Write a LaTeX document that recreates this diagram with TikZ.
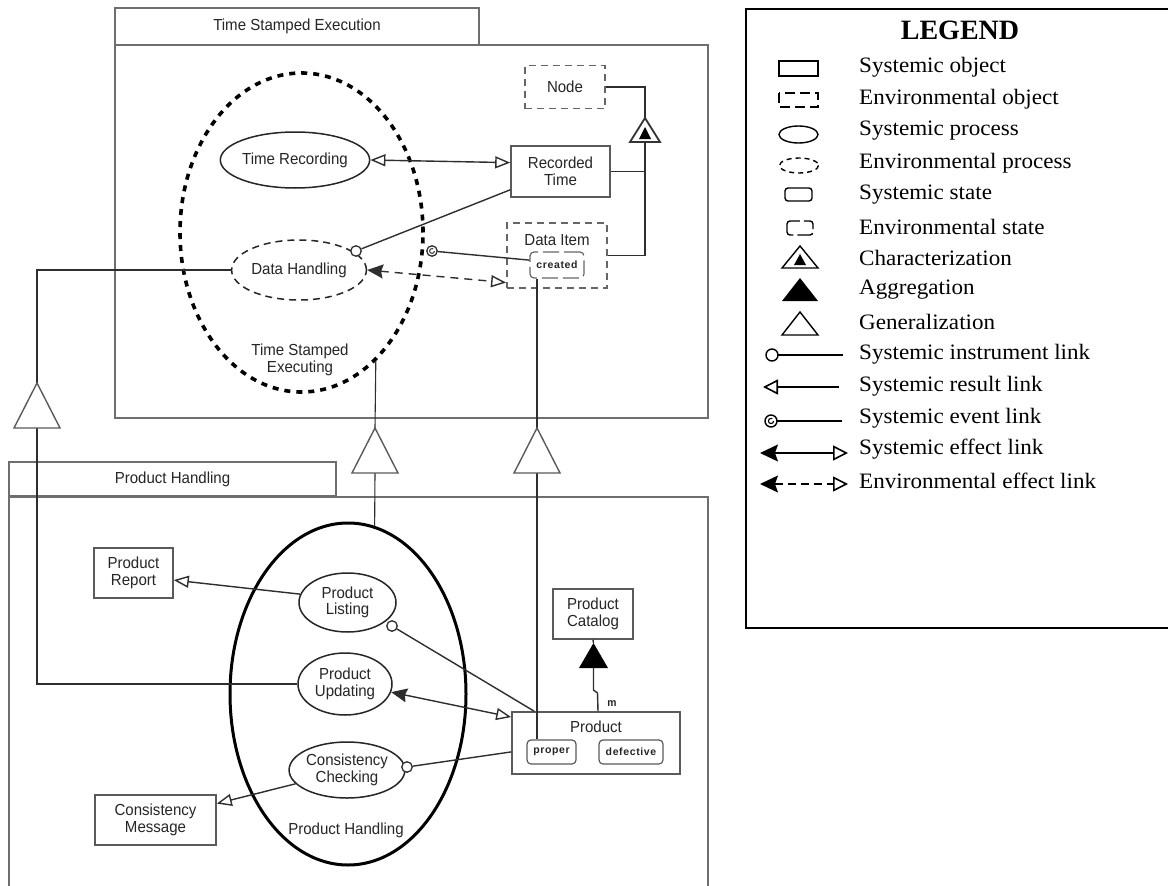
\documentclass[tikz,border=0pt]{standalone}
\usepackage{fontspec}
\setmainfont{Liberation Serif}
\newfontfamily\dfont[FakeStretch=0.94]{Liberation Sans}
\newfontfamily\stfont[LetterSpace=6]{Liberation Sans}
\newfontfamily\lgfont[FakeStretch=1.05]{Liberation Serif}
\usetikzlibrary{shapes.geometric,arrows.meta,calc}
\definecolor{framec}{HTML}{6E6E6E}
\definecolor{linec}{HTML}{2E2E2E}
\definecolor{boxc}{HTML}{5A5A5A}
\definecolor{txtc}{HTML}{262626}
\definecolor{dashc}{HTML}{666666}
\newcommand{\dgsize}{\fontsize{16}{16.5}\selectfont}
\begin{document}
\begin{tikzpicture}[x=1pt,y=-1pt,
  frame/.style={draw=framec, line width=1.6pt, inner sep=0pt, font=\dfont\dgsize, text=txtc},
  obj/.style={rectangle, draw=boxc, line width=1.6pt, inner sep=0pt, font=\dfont\dgsize, text=txtc, align=center},
  envobj/.style={obj, draw=dashc, line width=1.8pt, dash pattern=on 7pt off 5pt},
  proc/.style={ellipse, draw=black!85, line width=1.5pt, inner sep=0pt, font=\dfont\dgsize, text=txtc, align=center},
  envproc/.style={proc, dash pattern=on 7pt off 5pt},
  stbox/.style={rectangle, draw=boxc, line width=1.2pt, rounded corners=4pt, inner sep=0pt, font=\stfont\bfseries\fontsize{10.5}{11}\selectfont, text=txtc},
  envstbox/.style={stbox, draw=dashc, dash pattern=on 16pt off 5pt},
  lbl/.style={font=\dfont\dgsize, text=txtc, align=center, inner sep=0pt},
  link/.style={draw=linec, line width=1.4pt},
  gen/.style={draw=boxc, line width=1.4pt, fill=white, line join=miter},
  inst/.style={circle, draw=linec, line width=1.3pt, fill=white, minimum size=10.5pt, inner sep=0pt},
  opentip/.tip={Triangle[open, length=15pt, width=12pt, line width=1.4pt]},
  filltip/.tip={Stealth[length=16pt, width=14pt, inset=2pt]},
  lopen/.tip={Triangle[open, length=15pt, width=15pt, line width=1.6pt]},
  lfill/.tip={Stealth[length=18pt, width=17pt, inset=3pt]},
  lsym/.style={draw=black, line width=1.4pt},
  legtext/.style={font=\lgfont\fontsize{22}{24}\selectfont, anchor=west, inner sep=0pt},
]
\useasboundingbox (0,0) rectangle (1168,886);
\clip (0,0) rectangle (1168,886);
\fill[white] (0,0) rectangle (1168,886);

% ---------- frames ----------
\node[frame, minimum width=364pt, minimum height=37pt] (tabA) at (297,26.5) {Time Stamped Execution};
\node[frame, minimum width=593pt, minimum height=373pt] (boxA) at (411.5,231.5) {};
\node[frame, minimum width=327pt, minimum height=34pt] (tabB) at (172.5,479) {Product Handling};
\node[frame, minimum width=699pt, minimum height=440pt, anchor=north west] (boxB) at (8,496) {};

% ---------- top part ----------
\node[ellipse, draw=black, line width=3.6pt, dash pattern=on 6pt off 6pt, minimum width=243pt, minimum height=319pt, inner sep=0pt] (tse) at (301.5,232.5) {};
\node[lbl] (tsetxt) at (300,360) {Time Stamped\\Executing};
\node[proc, minimum width=144pt, minimum height=56pt] (tr) at (295,160) {Time Recording};
\node[envproc, minimum width=128pt, minimum height=60pt] (dh) at (299,270) {Data Handling};

\node[envobj, minimum width=80pt, minimum height=43pt] (nd) at (565,87) {Node};
\node[obj, minimum width=99pt, minimum height=51pt] (rt) at (560.5,171.5) {Recorded\\Time};
\node[envobj, minimum width=100pt, minimum height=65pt] (di) at (557,255.5) {};
\node[lbl] (ditxt) at (557,240) {Data Item};
\node[envstbox, minimum width=54pt, minimum height=26pt] (created) at (557,265) {created};

% characterization
\coordinate (cha) at (645,118);
\coordinate (chb) at (645,142);
\draw[gen, draw=black!80, line width=1.8pt] (cha) -- (630,142) -- (660,142) -- cycle;
\fill[black] (645,127) -- (639,139) -- (651,139) -- cycle;
\draw[link] (nd.east) -| (cha);
\draw[link] (rt.east) -- (rt.east -| chb);
\draw[link] (di.east) -- (di.east -| chb);
\draw[link] (chb) -- (chb |- di.east);

% links in the top part
\draw[link, opentip-opentip] (tr.east) -- (rt.170);
\node[inst] (ic1) at (356,251) {};
\draw[link] (rt.200) -- (ic1);
\node[inst] (ev1) at (432,251) {};
\draw[linec, line width=1pt] ($(ev1.center)+(2.4,0)$) arc[start angle=0, end angle=300, radius=2.4];
\draw[link] (ev1) -- (created.170);
\draw[link, dash pattern=on 8pt off 6pt, filltip-opentip] (dh.east) -- (di.208);

% ---------- bottom part ----------
\node[ellipse, draw=black, line width=3pt, minimum width=236pt, minimum height=342pt, inner sep=0pt] (ph) at (348,694) {};
\node[lbl] (phtxt) at (346,830) {Product Handling};
\node[proc, minimum width=97pt, minimum height=59pt] (pl) at (347.5,602.5) {Product\\Listing};
\node[proc, minimum width=94pt, minimum height=62pt] (pu) at (345,684) {Product\\Updating};
\node[proc, minimum width=110pt, minimum height=56pt] (cc) at (347,770) {Consistency\\Checking};

\node[obj, minimum width=79pt, minimum height=50pt] (prr) at (133.5,573) {Product\\Report};
\node[obj, minimum width=121pt, minimum height=50pt] (cm) at (155.5,820) {Consistency\\Message};
\node[obj, minimum width=80pt, minimum height=50pt] (cat) at (593,614) {Product\\Catalog};
\node[obj, minimum width=168pt, minimum height=62pt] (prod) at (596,743) {};
\node[lbl] (prodtxt) at (596,727) {Product};
\node[stbox, minimum width=49pt, minimum height=24pt] (proper) at (551.5,752) {proper};
\node[stbox, minimum width=64pt, minimum height=24pt] (defective) at (631,752) {defective};

% aggregation
\coordinate (aga) at (593.5,643);
\coordinate (agb) at (593.5,668);
\fill[black] (aga) -- (579,668) -- (608,668) -- cycle;
\draw[link] (cat.south) -- (aga);
\draw[link] (agb) -- ++(0,22) -- ++(4,3) -- ($(prod.north)+(2,0)$);
\node[font=\dfont\bfseries\fontsize{11}{12}\selectfont, text=txtc, inner sep=0pt] (mlbl) at (612,704) {m};

% generalizations
\coordinate (g1a) at (37,383);
\coordinate (g1b) at (37,428);
\coordinate (g2a) at (375,428);
\coordinate (g2b) at (375,473);
\coordinate (g3a) at (537,428);
\coordinate (g3b) at (537,473);
\draw[link, line width=1.1pt] (dh.west) -| (g1a);
\draw[link, line width=1.1pt] (g1b) |- (pu.west);
\draw[link, line width=1.1pt] (tse.-60) -- (g2a);
\draw[link, line width=1.1pt] (g2b) -- (ph.81);
\draw[link, line width=1.1pt] (g3a |- created.south) -- (g3a);
\draw[link, line width=1.1pt] (g3b) -- (g3b |- proper.north);
\draw[gen] (g1a) -- (14,428) -- (60,428) -- cycle;
\draw[gen] (g2a) -- (352,473) -- (398,473) -- cycle;
\draw[gen] (g3a) -- (514,473) -- (560,473) -- cycle;

% links in the bottom part
\draw[link, -opentip] (pl.170) -- (prr.-10);
\node[inst] (ic2) at (392,626) {};
\draw[link] (ic2) -- ($(prod.north west)+(23,0)$);
\draw[link, filltip-opentip] (pu.-10) -- (prod.163);
\node[inst] (ic3) at (407,767) {};
\draw[link] (prod.186) -- (ic3);
\draw[link, -opentip] (cc.195) -- (cm.15);

% ---------- legend ----------
\node[draw=black, line width=2pt, minimum width=450pt, minimum height=619pt, anchor=north west, inner sep=0pt] (legend) at (745,8) {};
\node[font=\rmfamily\bfseries\fontsize{28}{30}\selectfont, inner sep=0pt] (legtitle) at (960,30) {LEGEND};
\node[legtext] (l1) at (859,67) {Systemic object};
\node[legtext] (l2) at (859,99) {Environmental object};
\node[legtext] (l3) at (859,131) {Systemic process};
\node[legtext] (l4) at (859,163) {Environmental process};
\node[legtext] (l5) at (859,195) {Systemic state};
\node[legtext] (l6) at (859,227) {Environmental state};
\node[legtext] (l7) at (859,258) {Characterization};
\node[legtext] (l8) at (859,290) {Aggregation};
\node[legtext] (l9) at (859,322) {Generalization};
\node[legtext] (l10) at (859,354) {Systemic instrument link};
\node[legtext] (l11) at (859,386) {Systemic result link};
\node[legtext] (l12) at (859,418) {Systemic event link};
\node[legtext] (l13) at (859,449) {Systemic effect link};
\node[legtext] (l14) at (859,481) {Environmental effect link};

\draw[lsym] (779,61) rectangle (818,76);
\draw[lsym, dash pattern=on 10pt off 5pt] (779,93) rectangle (818,107);
\draw[lsym] (798.5,134.5) ellipse [x radius=19.5, y radius=8.5];
\draw[lsym, dash pattern=on 5pt off 4pt] (799,165.5) ellipse [x radius=19.5, y radius=7.5];
\draw[lsym, rounded corners=3pt] (785,188) rectangle (812,201);
\draw[lsym, rounded corners=3pt, dash pattern=on 16pt off 4pt] (787,221) rectangle (813,235);
\draw[lsym, line join=miter] (782,268) -- (818,268) -- (800,246) -- cycle;
\fill[black] (794,265) -- (806,265) -- (800,254) -- cycle;
\fill[black] (782,301) -- (818,301) -- (800,278) -- cycle;
\draw[lsym, line join=miter] (782,335) -- (818,335) -- (800,312) -- cycle;
\coordinate (li1) at (772,355);
\coordinate (li2) at (843,355);
\draw[lsym] (li1) circle (6);
\draw[lsym] ($(li1)+(6,0)$) -- (li2);
\coordinate (lr1) at (763,387);
\coordinate (lr2) at (839,387);
\draw[lsym, lopen-] (lr1) -- (lr2);
\coordinate (le1) at (771,421);
\coordinate (le2) at (842,421);
\draw[lsym] (le1) circle (6);
\draw[black, line width=1.1pt] ($(le1)+(2.6,0)$) arc[start angle=0, end angle=300, radius=2.6];
\draw[lsym] ($(le1)+(6,0)$) -- (le2);
\coordinate (lf1) at (760,453);
\coordinate (lf2) at (848,453);
\draw[lsym, lfill-lopen] (lf1) -- (lf2);
\coordinate (lg1) at (760,484);
\coordinate (lg2) at (848,484);
\draw[lsym, dash pattern=on 8pt off 5pt, lfill-lopen] (lg1) -- (lg2);
\end{tikzpicture}
\end{document}
